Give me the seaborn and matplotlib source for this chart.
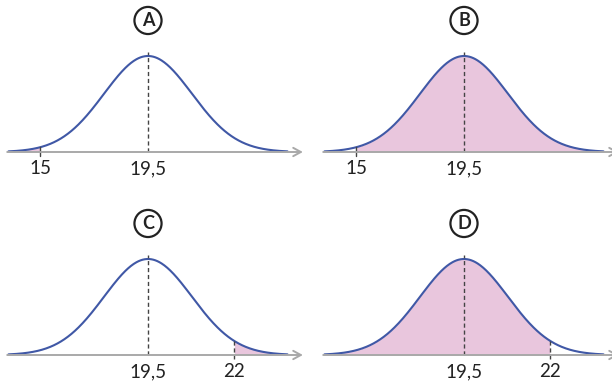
import numpy as np
import pandas as pd
import matplotlib
matplotlib.use("Agg")
import matplotlib.pyplot as plt
import seaborn as sns

# panel data (x axis in standard units, labels are the real values)
panels = ["A", "B", "C", "D"]
mean_label = "19,5"
cut_labels = ["15", "15", "22", "22"]
cut_z = [-2.45, -2.45, 1.96, 1.96]
shade_side = ["left", "right", "right", "left"]

sns.set_style("white")
plt.rcParams["font.family"] = ["Lato", "DejaVu Sans"]

blue = "#4058a6"
pink = "#e9c6dd"
grey = "#a9a9a9"
dark = "#222222"

W, H = 612, 385
fig = plt.figure(figsize=(W / 100, H / 100), dpi=100)

pxz = 44.0   # pixels per sd
pxy = 96.0   # pixels per peak height
xlim = (-3.4, 3.6)
# (mean pixel x, baseline pixel y, top pixel, bottom pixel)
layout = [(148, 152, 0, 192), (464, 152, 0, 192),
          (148, 355, 197, 385), (464, 355, 197, 385)]

z = np.linspace(-3.17, 3.17, 400)
dens = np.exp(-z ** 2 / 2)
curve = pd.DataFrame({"z": z, "density": dens})

for i, name in enumerate(panels):
    mx, by, top, bot = layout[i]
    left = mx + xlim[0] * pxz
    width = (xlim[1] - xlim[0]) * pxz
    ax = fig.add_axes([left / W, 1 - bot / H, width / W, (bot - top) / H])
    ax.set_xlim(xlim)
    ax.set_ylim(-(bot - by) / pxy, (by - top) / pxy)
    ax.axis("off")

    c = cut_z[i]
    if shade_side[i] == "left":
        m = z <= c
    else:
        m = z >= c
    ax.fill_between(z[m], 0, dens[m], color=pink, lw=0)

    # axis with open arrow
    ax.annotate("", xy=(3.52, 0), xytext=(-3.2, 0),
                arrowprops=dict(arrowstyle="->,head_length=0.55,head_width=0.3",
                                color=grey, lw=1.4, shrinkA=0, shrinkB=0))

    sns.lineplot(data=curve, x="z", y="density", ax=ax, color=blue, lw=1.5)

    # mean line
    ax.plot([0, 0], [0, 1.04], color="#444444", lw=1, dashes=(3, 2))
    hc = np.exp(-c ** 2 / 2)
    if c > 0:
        ax.plot([c, c], [-0.04, hc], color="#444444", lw=1, dashes=(3, 2))
    else:
        ax.plot([c, c], [-0.04, 0.05], color="#444444", lw=1)

    ax.text(0, -0.175, mean_label, ha="center", va="center", fontsize=13.5, color=dark)
    ax.text(c, -0.175, cut_labels[i], ha="center", va="center", fontsize=13.5, color=dark)

    ax.text(0, 1.37, name, ha="center", va="center", fontsize=13,
            fontweight="bold", color=dark,
            bbox=dict(boxstyle="circle,pad=0.28", fc="white", ec=dark, lw=1.6))

fig.savefig("out.png", dpi=100)
